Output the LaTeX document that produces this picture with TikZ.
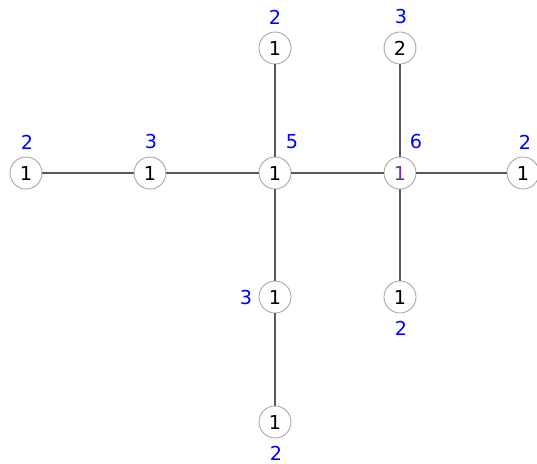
\documentclass[tikz,border=0pt]{standalone}
\usepackage{fontspec}
\setmainfont{DejaVu Sans}
\usepackage{xcolor}
\usetikzlibrary{positioning}
\definecolor{wtblue}{RGB}{0,0,255}
\definecolor{rootpurple}{RGB}{112,48,160}

\begin{document}
\begin{tikzpicture}[
  x=0.5pt, y=-0.5pt,
  vert/.style={circle, draw=gray!75, line width=0.4pt, minimum size=16pt,
               inner sep=0pt, font=\fontsize{9.6}{10}\selectfont},
  root/.style={vert, text=rootpurple},
  wt/.style  ={text=wtblue, inner sep=0pt, font=\fontsize{9.6}{10}\selectfont},
  e/.style   ={draw=gray!70!black, line width=0.55pt},
]
\useasboundingbox (0,0) rectangle (537,463);
% ---------------- vertices ----------------
\node[vert] (a)  at (26,173)  {1};
\node[vert] (b)  at (150,173) {1};
\node[vert] (c)  at (275,173) {1};
\node[root] (d)  at (400,173) {1};
\node[vert] (f)  at (523,173) {1};
\node[vert] (cu) at (275,48)  {1};
\node[vert] (du) at (400,48)  {2};
\node[vert] (cd) at (275,297) {1};
\node[vert] (dd) at (400,297) {1};
\node[vert] (cdd) at (275,422) {1};
% ---------------- weights ----------------
\node[wt] (wa)  at (27,142)  {2};
\node[wt] (wb)  at (151,142) {3};
\node[wt] (wc)  at (292,142) {5};
\node[wt] (wd)  at (416,142) {6};
\node[wt] (wf)  at (525,142) {2};
\node[wt] (wcu) at (275,17)  {2};
\node[wt] (wdu) at (401,17)  {3};
\node[wt] (wcd) at (246,297) {3};
\node[wt] (wdd) at (401,328) {2};
\node[wt] (wcdd) at (276,453) {2};
% ---------------- edges ----------------
\draw[e] (a) -- (b);
\draw[e] (b) -- (c);
\draw[e] (c) -- (d);
\draw[e] (d) -- (f);
\draw[e] (cu) -- (c);
\draw[e] (c) -- (cd);
\draw[e] (cd) -- (cdd);
\draw[e] (du) -- (d);
\draw[e] (d) -- (dd);
\end{tikzpicture}
\end{document}
